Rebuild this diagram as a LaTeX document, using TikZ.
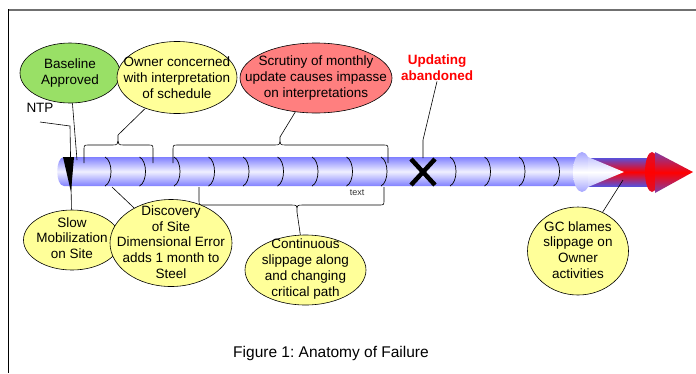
\documentclass[tikz,border=0pt]{standalone}
\usepackage{fontspec}
\setmainfont{Liberation Sans}
\usetikzlibrary{shapes.geometric,calc}
\definecolor{grn}{HTML}{99E066}
\definecolor{ylw}{HTML}{FFFF99}
\definecolor{rd}{HTML}{FF7F7F}
\definecolor{tube}{HTML}{8080FF}
\definecolor{tubelt}{HTML}{F0F0FF}
\definecolor{shaft}{HTML}{5A4FD8}
\definecolor{hot}{HTML}{FF0000}
\definecolor{frm}{HTML}{707070}
% brace: x1, xtip, x2, ybase, ycorner, yline, ytip
\newcommand{\brc}[7]{%
  \draw[lnk] (#1,#4) -- (#1,#5) .. controls (#1,#6) .. (#1+5,#6) -- (#2-6,#6)
    .. controls (#2,#6) .. (#2,#7) .. controls (#2,#6) .. (#2+6,#6)
    -- (#3-5,#6) .. controls (#3,#6) .. (#3,#5) -- (#3,#4);}
\tikzset{
  bub/.style={ellipse,draw=black,line width=0.6bp,fill=ylw,inner sep=0pt},
  gbub/.style={bub,fill=grn},
  rbub/.style={bub,fill=rd},
  txt/.style={align=center,inner sep=1pt,font=\fontsize{13.5bp}{15.8bp}\selectfont},
  lnk/.style={draw=black,line width=0.6bp},
  seg/.style={line width=0.7bp},
}
\begin{document}
\frenchspacing
\begin{tikzpicture}[x=1bp,y=-1bp]
\useasboundingbox (0,0) rectangle (696,373);
% frame
\draw[line width=2bp,draw=frm] (8,9.5) -- (696,9.5);
\draw[line width=0.8bp] (8,9) -- (8,373);

% timeline tube
\shade[top color=tube,bottom color=tube,middle color=tubelt]
  (64,157) -- (582,157) -- (582,186) -- (64,186) .. controls (55,186) and (55,157) .. (64,157);
\foreach \sx in {105,139.5,174,208.5,243,277.5,312,346.5,381,450,484.5,519,553.5}
  \draw[seg] (\sx,157) .. controls (\sx+8,161) and (\sx+8,182) .. (\sx,186);

% arrow end
\shade[top color=shaft,bottom color=shaft,middle color=hot] (588,158) rectangle (655,186);
\shade[top color=tube!70,bottom color=tube!70,middle color=white] (582,172) ellipse [x radius=9, y radius=20];
\shade[top color=tube!45,bottom color=tube!45,middle color=white] (588,157) -- (624,172) -- (588,187) -- cycle;
\shade[top color=hot!80!shaft,bottom color=hot!80!shaft,middle color=hot] (652,172) ellipse [x radius=7, y radius=20];
\shade[top color=shaft!80!hot,bottom color=shaft!80!hot,middle color=hot] (655,152) -- (693,172) -- (655,193) -- cycle;

% NTP marker
\node[txt] (ntp) at (40,108) {NTP};
\coordinate (ntpl) at (40,122);
\coordinate (ntpk) at (70,126);
\fill (63,157) -- (74,157) -- (71,192) -- cycle;

% braces
\brc{84}{118}{153}{163}{150}{145}{135}
\coordinate (tipA) at (118,135);
\brc{173}{280}{388}{163}{150}{145}{137}
\coordinate (tipB) at (280,137);
\brc{199}{297}{384}{187}{200}{205}{212}
\coordinate (tipC) at (297,212);

% X mark
\draw[line width=4.5bp] (411,159) -- (435,185) (411,185) -- (435,159);
\coordinate (xtop) at (423,158);
\coordinate (updk) at (423,140);
\node[txt,text=hot,font=\fontsize{13.5bp}{15.5bp}\selectfont\bfseries] (upd) at (437,67.5) {Updating\\abandoned};
\node[font=\fontsize{9bp}{10bp}\selectfont,text=black!80,inner sep=0pt] (txtlbl) at (357,193) {text};

% bubbles above
\node[gbub,minimum width=100bp,minimum height=60bp] (base) at (70,73) {};
\node[txt] (baset) at (base.center) {Baseline\\Approved};
\node[bub,minimum width=120bp,minimum height=72bp] (owner) at (177,77.5) {};
\node[txt] (ownert) at (owner.center) {Owner concerned\\with interpretation\\of schedule};
\node[rbub,minimum width=152bp,minimum height=70bp] (scrut) at (316,78) {};
\node[txt] (scrutt) at (scrut.center) {Scrutiny of monthly\\update causes impasse\\on interpretations};

% bubbles below
\node[bub,minimum width=97bp,minimum height=60bp] (slow) at (72,240) {};
\node[txt] (slowt) at (72,238) {Slow\\Mobilization\\on Site};
\node[bub,minimum width=122bp,minimum height=87bp] (disc) at (171,243) {};
\node[txt] (disct) at (171,242) {Discovery\\of Site\\Dimensional Error\\adds 1 month to\\Steel};
\node[bub,minimum width=121bp,minimum height=70bp] (cont) at (305.5,270) {};
\node[txt] (contt) at (305.5,269) {Continuous\\slippage along\\and changing\\critical path};
\node[bub,minimum width=101bp,minimum height=88bp] (gc) at (578,251) {};
\node[txt] (gct) at (578,250) {GC blames\\slippage on\\Owner\\activities};

% connectors
\coordinate (baset0) at (77,160);
\coordinate (disc0) at (112,187);
\coordinate (gc0) at (623,180);
\draw[lnk] (ntpl) -- (ntpk) -- (slow);
\draw[lnk] (base) -- (baset0);
\draw[lnk] (owner) -- (tipA);
\draw[lnk] (scrut) -- (tipB);
\draw[lnk] (upd.south) -- (updk) -- (xtop);
\draw[lnk] (cont) -- (tipC);
\draw[lnk] (disc) -- (disc0);
\draw[lnk] (gc) -- (gc0);

\node[font=\fontsize{15.5bp}{18bp}\selectfont] (cap) at (331,353) {Figure 1: Anatomy of Failure};
\end{tikzpicture}
\end{document}
